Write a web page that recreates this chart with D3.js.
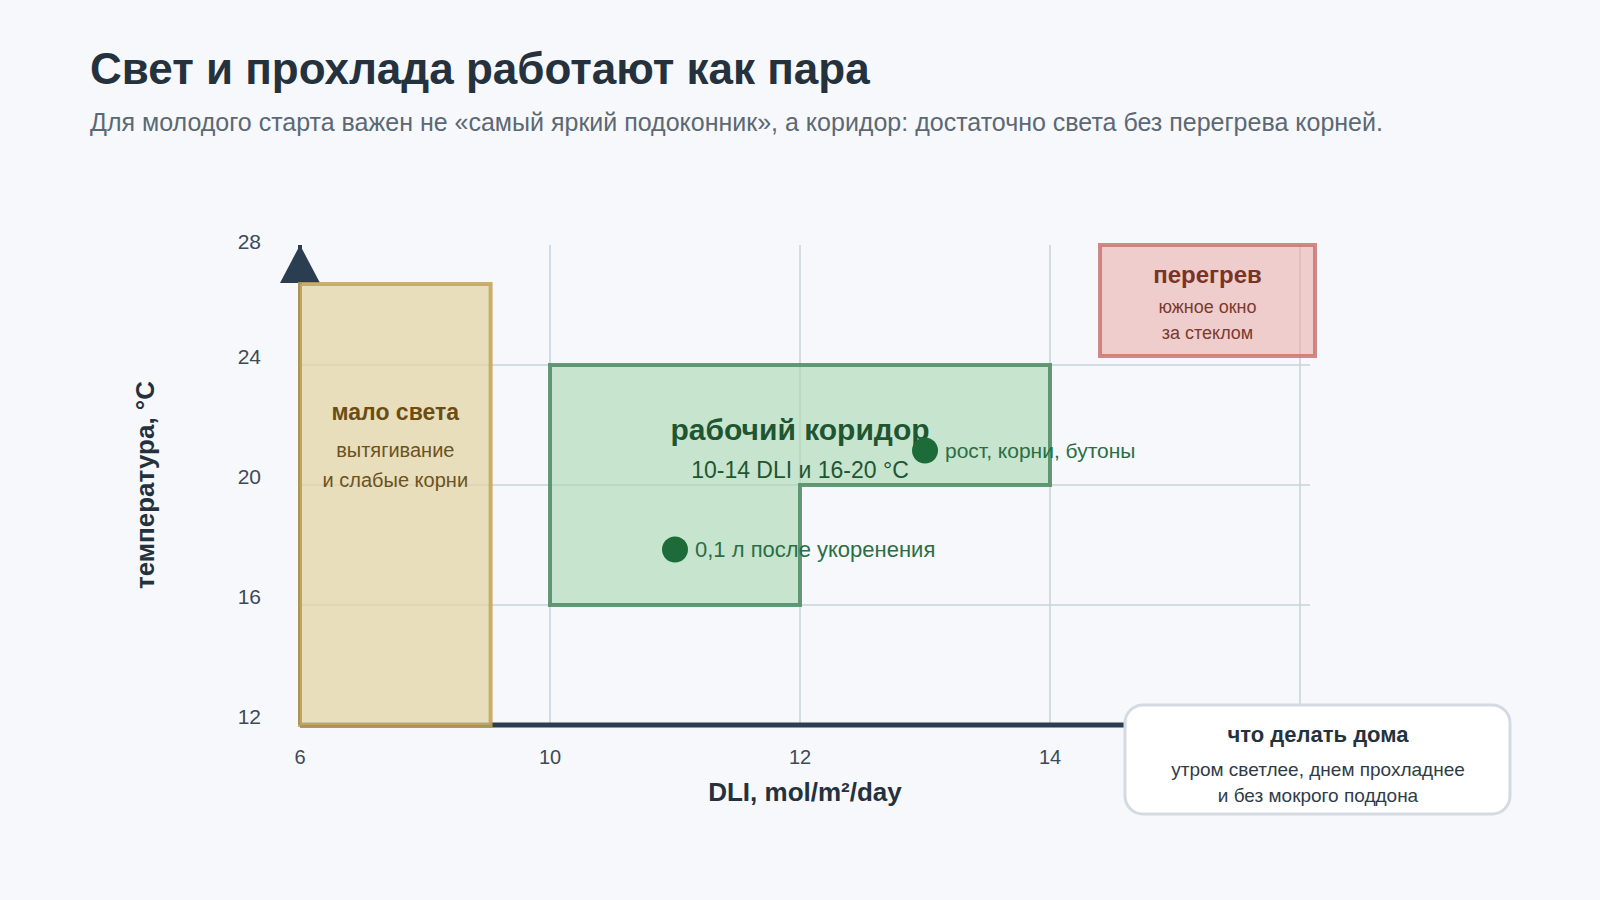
<!DOCTYPE html>
<html>
<head>
<meta charset="utf-8">
<script src="https://cdn.jsdelivr.net/npm/d3@7"></script>
<style>
  body { margin: 0; background: #f6f8fb; }
  svg { display: block; font-family: "Liberation Sans", Arial, sans-serif; }
</style>
</head>
<body>
<svg id="chart" width="1600" height="900"></svg>
<script>
// данные
var xTicks = [6, 10, 12, 14, 16];
var xTickLabels = [6, 10, 12, 14]; // 16 закрыта плашкой
var yTicks = [12, 16, 20, 24, 28];
var lowLight = { x: [6, 9.05], y: [12, 26.7] };
var corridor = [[10, 16], [10, 24], [14, 24], [14, 20], [12, 20], [12, 16]];
var overheat = { x: [14.4, 16.12], y: [24.3, 28] };
var points = [
  { dli: 11, t: 17.85, label: "0,1 л после укоренения" },
  { dli: 13, t: 21.15, label: "рост, корни, бутоны" }
];

var svg = d3.select("#chart");
var plotLeft = 300, plotRight = 1300, plotTop = 245, plotBottom = 725;

// шкала X: метки идут через равные промежутки
var step = (plotRight - plotLeft) / (xTicks.length - 1);
var x = d3.scaleLinear()
  .domain(xTicks)
  .range(xTicks.map((d, i) => plotLeft + i * step));
var y = d3.scaleLinear().domain([12, 28]).range([plotBottom, plotTop]);

// заголовок
svg.append("text").attr("x", 90).attr("y", 84)
  .attr("font-size", 44).attr("font-weight", "bold").attr("fill", "#25323d")
  .text("Свет и прохлада работают как пара");
svg.append("text").attr("x", 90).attr("y", 131)
  .attr("font-size", 25).attr("fill", "#5c6873")
  .text("Для молодого старта важен не «самый яркий подоконник», а коридор: достаточно света без перегрева корней.");

// сетка
svg.append("g").selectAll("line").data(yTicks.slice(1, 4)).join("line")
  .attr("x1", plotLeft).attr("x2", plotRight + 10)
  .attr("y1", d => y(d)).attr("y2", d => y(d))
  .attr("stroke", "#c9d3db").attr("stroke-width", 1.5);
svg.append("g").selectAll("line").data(xTicks.slice(1)).join("line")
  .attr("x1", d => x(d)).attr("x2", d => x(d))
  .attr("y1", plotTop).attr("y2", plotBottom)
  .attr("stroke", "#c9d3db").attr("stroke-width", 1.5);

// оси
svg.append("line").attr("x1", plotLeft).attr("x2", plotRight + 10)
  .attr("y1", plotBottom).attr("y2", plotBottom)
  .attr("stroke", "#2b3d50").attr("stroke-width", 5);
svg.append("line").attr("x1", plotLeft).attr("x2", plotLeft)
  .attr("y1", plotBottom).attr("y2", plotTop)
  .attr("stroke", "#2b3d50").attr("stroke-width", 4);
svg.append("path")
  .attr("d", `M${plotLeft},${plotTop} L${plotLeft + 20},${plotTop + 38} L${plotLeft - 20},${plotTop + 38} Z`)
  .attr("fill", "#2b3d50");

// подписи осей
svg.append("g").selectAll("text").data(yTicks).join("text")
  .attr("x", 261).attr("y", d => Math.max(y(d) - 8, plotTop - 3)).attr("dy", "0.35em")
  .attr("text-anchor", "end").attr("font-size", 21).attr("fill", "#3d4a57")
  .text(d => d);
svg.append("g").selectAll("text").data(xTickLabels).join("text")
  .attr("x", d => x(d)).attr("y", 757).attr("dy", "0.35em")
  .attr("text-anchor", "middle").attr("font-size", 20).attr("fill", "#3d4a57")
  .text(d => d);
svg.append("text").attr("x", 805).attr("y", 801)
  .attr("text-anchor", "middle").attr("font-size", 26).attr("font-weight", "bold").attr("fill", "#25323d")
  .text("DLI, mol/m²/day");
svg.append("text").attr("transform", "translate(154,485) rotate(-90)")
  .attr("text-anchor", "middle").attr("font-size", 26).attr("font-weight", "bold").attr("fill", "#25323d")
  .text("температура, °C");

// мало света
svg.append("rect")
  .attr("x", x(lowLight.x[0])).attr("y", y(lowLight.y[1]))
  .attr("width", x(lowLight.x[1]) - x(lowLight.x[0]))
  .attr("height", y(lowLight.y[0]) - y(lowLight.y[1]))
  .attr("fill", "#e3d4a4").attr("fill-opacity", 0.72)
  .attr("stroke", "#c2a357").attr("stroke-opacity", 0.85).attr("stroke-width", 4);
var cxLow = (x(lowLight.x[0]) + x(lowLight.x[1])) / 2;
svg.append("text").attr("x", cxLow).attr("y", 420).attr("text-anchor", "middle")
  .attr("font-size", 23).attr("font-weight", "bold").attr("fill", "#6b4d14").text("мало света");
svg.append("text").attr("x", cxLow).attr("y", 457).attr("text-anchor", "middle")
  .attr("font-size", 20).attr("fill", "#6b5321").text("вытягивание");
svg.append("text").attr("x", cxLow).attr("y", 487).attr("text-anchor", "middle")
  .attr("font-size", 20).attr("fill", "#6b5321").text("и слабые корни");

// рабочий коридор
svg.append("path")
  .attr("d", d3.line().x(d => x(d[0])).y(d => y(d[1]))(corridor) + "Z")
  .attr("fill", "#a9d9b2").attr("fill-opacity", 0.62)
  .attr("stroke", "#4c8a60").attr("stroke-opacity", 0.85).attr("stroke-width", 4);
svg.append("text").attr("x", x(12)).attr("y", 440).attr("text-anchor", "middle")
  .attr("font-size", 30).attr("font-weight", "bold").attr("fill", "#1f5632").text("рабочий коридор");
svg.append("text").attr("x", x(12)).attr("y", 478).attr("text-anchor", "middle")
  .attr("font-size", 23).attr("fill", "#1f5632").text("10-14 DLI и 16-20 °C");

// перегрев
svg.append("rect")
  .attr("x", x(overheat.x[0])).attr("y", y(overheat.y[1]))
  .attr("width", x(overheat.x[1]) - x(overheat.x[0]))
  .attr("height", y(overheat.y[0]) - y(overheat.y[1]))
  .attr("fill", "#eaa9a5").attr("fill-opacity", 0.55)
  .attr("stroke", "#c9766e").attr("stroke-opacity", 0.85).attr("stroke-width", 4);
var cxHot = (x(overheat.x[0]) + x(overheat.x[1])) / 2;
svg.append("text").attr("x", cxHot).attr("y", 283).attr("text-anchor", "middle")
  .attr("font-size", 24).attr("font-weight", "bold").attr("fill", "#7a3326").text("перегрев");
svg.append("text").attr("x", cxHot).attr("y", 313).attr("text-anchor", "middle")
  .attr("font-size", 18).attr("fill", "#7a3a2e").text("южное окно");
svg.append("text").attr("x", cxHot).attr("y", 339).attr("text-anchor", "middle")
  .attr("font-size", 18).attr("fill", "#7a3a2e").text("за стеклом");

// точки
var pg = svg.append("g").selectAll("g").data(points).join("g");
pg.append("circle").attr("cx", d => x(d.dli)).attr("cy", d => y(d.t)).attr("r", 13)
  .attr("fill", "#1e6b3a");
pg.append("text").attr("x", d => x(d.dli) + 20).attr("y", d => y(d.t)).attr("dy", "0.35em")
  .attr("font-size", (d, i) => i === 0 ? 22 : 21).attr("fill", "#2b6e44").text(d => d.label);

// что делать дома
svg.append("rect").attr("x", 1125).attr("y", 705).attr("width", 385).attr("height", 109)
  .attr("rx", 18).attr("fill", "#ffffff").attr("stroke", "#d3dae1").attr("stroke-width", 3);
svg.append("text").attr("x", 1318).attr("y", 742).attr("text-anchor", "middle")
  .attr("font-size", 22).attr("font-weight", "bold").attr("fill", "#25323d").text("что делать дома");
svg.append("text").attr("x", 1318).attr("y", 776).attr("text-anchor", "middle")
  .attr("font-size", 19).attr("fill", "#2f3c48").text("утром светлее, днем прохладнее");
svg.append("text").attr("x", 1318).attr("y", 802).attr("text-anchor", "middle")
  .attr("font-size", 19).attr("fill", "#2f3c48").text("и без мокрого поддона");
</script>
</body>
</html>
